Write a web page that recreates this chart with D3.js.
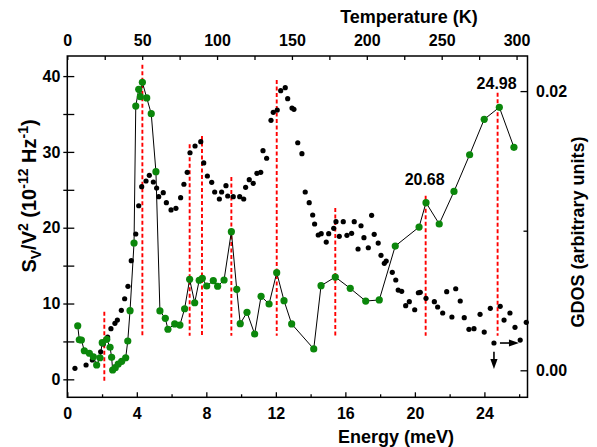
<!DOCTYPE html>
<html>
<head>
<meta charset="utf-8">
<script src="https://cdn.jsdelivr.net/npm/d3@7/dist/d3.min.js"></script>
<style>
	body { margin: 0; background: #fff; }
	svg { display: block; font-family: 'Liberation Sans', Arial, sans-serif; font-weight: bold; }
</style>
</head>
<body>
<svg id="chart" width="597" height="447"></svg>
<script>
// noise spectrum S_V/V^2 (black dots), energy in meV
const noiseEnergy = [
	0.44, 1.08, 1.44, 1.92, 2.07, 2.32, 2.51, 2.74, 2.88, 3.11,
	3.30, 3.49, 3.68, 3.94, 4.11, 4.28, 4.53, 4.72, 4.95, 5.14,
	5.26, 5.52, 5.70, 5.97, 6.25, 6.52, 6.71, 6.90, 7.06, 7.35,
	7.68, 7.85, 8.06, 8.31, 8.48, 8.75, 8.88, 9.13, 9.23, 9.55,
	9.92, 10.15, 10.26, 10.47, 10.70, 10.91, 11.13, 11.26, 11.47, 11.72,
	11.85, 12.08, 12.28, 12.54, 12.68, 12.93, 13.04, 13.26, 13.50, 13.69,
	13.92, 14.12, 14.23, 14.44, 14.61, 14.90, 15.04, 15.33, 15.46, 15.65,
	15.88, 16.09, 16.36, 16.51, 16.73, 16.90, 17.07, 17.32, 17.51, 17.66,
	17.89, 18.05, 18.24, 18.35, 18.70, 18.90, 19.04, 19.24, 19.47, 19.68,
	19.99, 20.20, 20.31, 20.64, 21.12, 21.31, 21.60, 21.83, 22.13, 22.35,
	22.61, 22.84, 23.11, 23.40, 23.75, 23.99, 24.34, 24.55, 24.91, 25.13,
	25.47, 25.76, 26.06, 26.41
];
const noiseSV = [
	1.45, 1.89, 2.55, 3.64, 4.66, 5.58, 6.68, 7.39, 7.82, 9.10,
	10.63, 12.27, 15.65, 19.17, 22.90, 25.41, 26.16, 26.91, 26.03, 25.24,
	24.09, 24.62, 23.30, 22.34, 22.56, 23.96, 25.73, 27.31, 29.89, 30.78,
	31.35, 28.54, 26.82, 25.99, 24.71, 23.79, 24.71, 25.54, 24.18, 24.09,
	24.09, 23.79, 25.33, 26.33, 25.86, 27.18, 27.31, 30.16, 29.16, 34.17,
	35.22, 35.53, 38.07, 38.47, 37.02, 35.79, 35.62, 31.21, 29.76, 24.71,
	23.30, 21.68, 20.49, 19.04, 19.21, 18.11, 19.21, 19.92, 20.79, 18.87,
	20.79, 19.00, 19.26, 20.79, 17.19, 20.26, 18.68, 17.36, 21.64, 19.13,
	17.98, 16.36, 15.30, 15.61, 14.12, 13.10, 11.78, 11.61, 9.71, 10.24,
	9.18, 11.42, 11.48, 10.69, 10.24, 9.54, 8.75, 11.56, 8.22, 11.95,
	10.33, 8.13, 6.60, 6.68, 8.58, 6.24, 9.37, 4.79, 9.63, 7.82,
	8.75, 6.86, 5.18, 7.52
];

// GDOS (green dots + line)
const gdosEnergy = [
	0.60, 0.69, 0.81, 0.98, 1.27, 1.50, 1.69, 1.88, 2.01, 2.27,
	2.46, 2.55, 2.61, 2.76, 2.93, 3.13, 3.36, 3.48, 3.61, 3.84,
	3.94, 4.11, 4.20, 4.32, 4.57, 4.83, 5.10, 5.33, 5.64, 5.79,
	6.18, 6.48, 6.75, 7.04, 7.33, 7.59, 7.77, 8.02, 8.40, 8.65,
	9.02, 9.44, 9.75, 9.95, 10.34, 10.78, 11.15, 11.61, 12.05, 12.47,
	12.91, 14.18, 14.60, 15.42, 16.28, 17.17, 17.95, 18.87, 20.24, 20.64,
	21.40, 22.25, 23.15, 23.99, 24.86, 25.70
];
const gdosValue = [
	0.00319, 0.00219, 0.00217, 0.00140, 0.00122, 0.00097, 0.00038, 0.00090, 0.00198, 0.00222,
	0.00165, 0.00093, 0.00002, 0.00019, 0.00045, 0.00064, 0.00090, 0.00210, 0.00427, 0.00912,
	0.01893, 0.02013, 0.01960, 0.02063, 0.01951, 0.01838, 0.01423, 0.00425, 0.00372, 0.00294,
	0.00332, 0.00324, 0.00441, 0.00652, 0.00484, 0.00645, 0.00659, 0.00604, 0.00642, 0.00602,
	0.00647, 0.00993, 0.00580, 0.00334, 0.00415, 0.00260, 0.00530, 0.00475, 0.00699, 0.00499,
	0.00332, 0.00153, 0.00606, 0.00668, 0.00587, 0.00496, 0.00504, 0.00890, 0.01026, 0.01201,
	0.01048, 0.01281, 0.01544, 0.01798, 0.01884, 0.01597
];

// red dashed markers (energy, extent in S_V/V^2 units)
const peakEnergy = [2.13, 4.32, 7.04, 7.75, 9.44, 12.05, 15.42, 20.62, 24.76];
const peakTop = [8.9, 41.5, 31.0, 32.1, 26.7, 39.5, 22.6, 24.2, 37.8];
const peakBottom = [-0.2, 5.75, 5.75, 5.75, 5.75, 5.75, 5.75, 5.75, 5.75];

const peakLabels = ['20.68', '24.98'];
const peakLabelEnergy = [20.62, 24.76];
const peakLabelSV = [25.67, 38.34];

const energyTicks = [0, 4, 8, 12, 16, 20, 24];
const energyMinor = [2, 6, 10, 14, 18, 22, 26];
const tempTicks = [0, 50, 100, 150, 200, 250, 300];
const svTicks = [0, 10, 20, 30, 40];
const gdosTicks = [0, 0.02];

const kB = 0.08617; // meV per K

const W = 597;
const H = 447;
const margin = { top: 56, right: 69.5, bottom: 49.7, left: 67.3 };

const svg = d3.select('#chart');

const x = d3.scaleLinear().domain([0, 26.48]).range([margin.left, W - margin.right]);
const xTemp = d3.scaleLinear().domain(x.domain().map(e => e / kB)).range(x.range());
const y = d3.scaleLinear().domain([-2.37, 42.65]).range([H - margin.bottom, margin.top]);
const y2 = d3.scaleLinear().domain([-0.001934, 0.022514]).range([H - margin.bottom, margin.top]);

const styleAxis = (g, size) => {
	g.select('.domain').remove();
	g.selectAll('line').attr('stroke', '#000').attr('stroke-width', 1.3);
	g.selectAll('text').attr('fill', '#000').attr('font-size', size).attr('font-family', null);
};

// bottom axis
svg.append('g')
	.attr('transform', `translate(0,${H - margin.bottom})`)
	.call(d3.axisBottom(x).tickValues(energyTicks).tickSizeInner(-5).tickSizeOuter(0).tickPadding(10.5))
	.call(g => styleAxis(g, 16));
svg.append('g')
	.attr('transform', `translate(0,${H - margin.bottom})`)
	.call(d3.axisBottom(x).tickValues(energyMinor).tickSizeInner(-3).tickSizeOuter(0).tickFormat(''))
	.call(g => styleAxis(g, 16));

// top axis
svg.append('g')
	.attr('transform', `translate(0,${margin.top})`)
	.call(d3.axisTop(xTemp).tickValues(d3.range(0, 325, 25)).tickSizeInner(-4).tickSizeOuter(0).tickPadding(10)
		.tickFormat(d => tempTicks.includes(d) ? d : ''))
	.call(g => styleAxis(g, 16));

// left axis
svg.append('g')
	.attr('transform', `translate(${margin.left},0)`)
	.call(d3.axisLeft(y).tickValues(d3.range(0, 45, 5)).tickSizeInner(-7).tickSizeOuter(0).tickPadding(7)
		.tickFormat(d => svTicks.includes(d) ? d : ''))
	.call(g => styleAxis(g, 16))
	.call(g => g.selectAll('.tick').append('line').attr('x2', -4).attr('stroke', '#000').attr('stroke-width', 1.3));

// right axis
svg.append('g')
	.attr('transform', `translate(${W - margin.right},0)`)
	.call(d3.axisRight(y2).tickValues(gdosTicks).tickSizeInner(-7).tickSizeOuter(0).tickPadding(8.5)
		.tickFormat(d3.format('.2f')))
	.call(g => styleAxis(g, 16));
svg.append('g')
	.attr('transform', `translate(${W - margin.right},0)`)
	.call(d3.axisRight(y2).tickValues([0.01]).tickSizeInner(-4).tickSizeOuter(0).tickFormat(''))
	.call(g => styleAxis(g, 16));

// frame
svg.append('rect')
	.attr('x', margin.left)
	.attr('y', margin.top)
	.attr('width', W - margin.left - margin.right)
	.attr('height', H - margin.top - margin.bottom)
	.attr('fill', 'none')
	.attr('stroke', '#000')
	.attr('stroke-width', 1.5);

// red dashed lines
svg.append('g')
	.selectAll('line')
	.data(peakEnergy)
	.enter()
	.append('line')
	.attr('x1', d => x(d))
	.attr('x2', d => x(d))
	.attr('y1', (d, i) => y(peakTop[i]))
	.attr('y2', (d, i) => y(peakBottom[i]))
	.attr('stroke', '#ff0000')
	.attr('stroke-width', 1.9)
	.attr('stroke-dasharray', '4,2.5');

// black noise dots
svg.append('g')
	.selectAll('circle')
	.data(noiseEnergy)
	.enter()
	.append('circle')
	.attr('cx', d => x(d))
	.attr('cy', (d, i) => y(noiseSV[i]))
	.attr('r', 2.6)
	.attr('fill', '#000');

// GDOS line + dots
const gdos = gdosEnergy.map((e, i) => ({ e, v: gdosValue[i] }));
svg.append('path')
	.datum(gdos)
	.attr('fill', 'none')
	.attr('stroke', '#000')
	.attr('stroke-width', 1)
	.attr('d', d3.line().x(d => x(d.e)).y(d => y2(d.v)));

svg.append('g')
	.selectAll('circle')
	.data(gdos)
	.enter()
	.append('circle')
	.attr('cx', d => x(d.e))
	.attr('cy', d => y2(d.v))
	.attr('r', 3.6)
	.attr('fill', '#0b870b');

// peak labels
svg.append('g')
	.selectAll('text')
	.data(peakLabels)
	.enter()
	.append('text')
	.attr('x', (d, i) => x(peakLabelEnergy[i]) - 1)
	.attr('y', (d, i) => y(peakLabelSV[i]))
	.attr('text-anchor', 'middle')
	.attr('font-size', 16)
	.text(d => d);

// arrows on the marked point
const marked = noiseEnergy.indexOf(24.55);
const mx = x(noiseEnergy[marked]);
const my = y(noiseSV[marked]);
const arrows = svg.append('g').attr('fill', '#000').attr('stroke', '#000');
arrows.append('line').attr('x1', mx).attr('x2', mx).attr('y1', my + 8.7).attr('y2', my + 17).attr('stroke-width', 1.6);
arrows.append('path').attr('stroke', 'none')
	.attr('d', `M${mx - 3.6},${my + 16} L${mx + 3.6},${my + 16} L${mx},${my + 26} Z`);
arrows.append('line').attr('x1', mx + 6).attr('x2', mx + 16).attr('y1', my).attr('y2', my).attr('stroke-width', 1.6);
arrows.append('path').attr('stroke', 'none')
	.attr('d', `M${mx + 15},${my - 3.6} L${mx + 15},${my + 3.6} L${mx + 25},${my} Z`);

// axis titles
svg.append('text')
	.attr('x', 396)
	.attr('y', 443)
	.attr('text-anchor', 'middle')
	.attr('font-size', 18)
	.text('Energy (meV)');

svg.append('text')
	.attr('x', 409)
	.attr('y', 23)
	.attr('text-anchor', 'middle')
	.attr('font-size', 18)
	.text('Temperature (K)');

svg.append('text')
	.attr('transform', 'translate(584,232) rotate(-90)')
	.attr('text-anchor', 'middle')
	.attr('font-size', 18)
	.text('GDOS (arbitrary units)');

const yTitle = svg.append('text')
	.attr('transform', 'translate(36,196) rotate(-90)')
	.attr('text-anchor', 'middle')
	.attr('font-size', 20);
const parts = [
	['S', 0, 20], ['V', 5, 14], ['/V', -5, 20], ['2', -8, 14], [' (10', 8, 20],
	['-12', -8, 14], [' Hz', 8, 20], ['-1', -8, 14], [')', 8, 20]
];
parts.forEach(([t, dy, fs]) => {
	yTitle.append('tspan').attr('dy', dy).attr('font-size', fs).text(t);
});
</script>
</body>
</html>
